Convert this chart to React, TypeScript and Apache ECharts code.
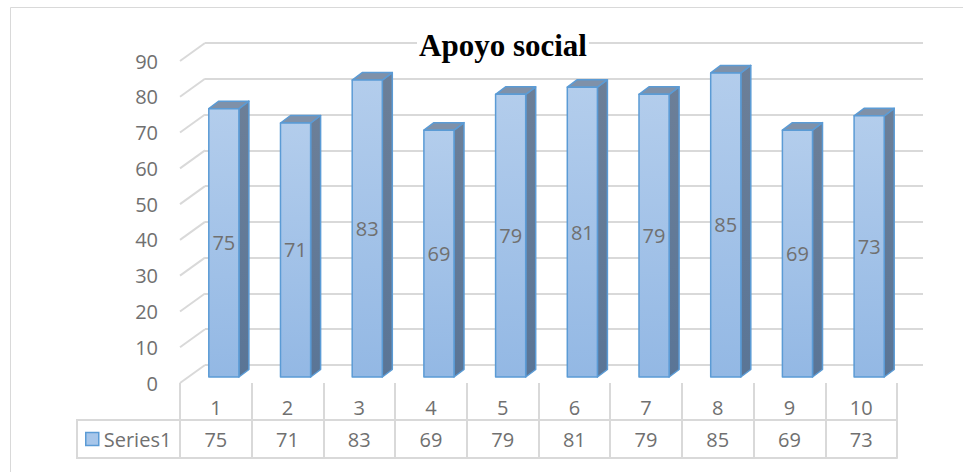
import React, { useEffect, useRef } from "react";
import * as echarts from "echarts";

// Categories, values and axis ticks
const CATEGORIES = ["1", "2", "3", "4", "5", "6", "7", "8", "9", "10"];
const SERIES_NAME = "Series1";
const VALUES = [75, 71, 83, 69, 79, 81, 79, 85, 69, 73];
const Y_TICKS = [0, 10, 20, 30, 40, 50, 60, 70, 80, 90];
const TITLE = "Apoyo social";

// Pseudo-3D geometry (pixels)
const WALL_DX = 25; // depth of the plot box
const WALL_DY = -18;
const BAR_SHIFT_X = 8; // bar front face, set back from the front plane
const BAR_SHIFT_Y = -6;
const BAR_DX = 10; // bar depth
const BAR_DY = -7.5;
const BAR_WIDTH_RATIO = 0.42;

const GRID_COLOR = "#d9d9d9";
const TEXT_COLOR = "#707070";
const FONT = "'Open Sans', sans-serif";

export default function App() {
  const ref = useRef<HTMLDivElement>(null);

  useEffect(() => {
    document.body.style.margin = "0";
    const chart = echarts.init(ref.current!, null, { renderer: "svg" });

    const frontLeft = 180;
    const frontTop = 61;
    const plotW = 717;
    const plotH = 322;

    const option: any = {
      animation: false,
      backgroundColor: "#ffffff",
      title: {
        text: TITLE,
        left: 417,
        top: 30,
        padding: [0, 2],
        backgroundColor: "#ffffff",
        textStyle: {
          fontFamily: "'Liberation Serif', 'Times New Roman', serif",
          fontWeight: "bold",
          fontSize: 31,
          lineHeight: 31,
          color: "#000000",
        },
        z: 10,
      },
      legend: {
        left: 85,
        top: 429,
        padding: 0,
        itemWidth: 13,
        itemHeight: 13,
        itemGap: 5,
        selectedMode: false,
        textStyle: { fontFamily: FONT, fontSize: 20, lineHeight: 20, color: TEXT_COLOR },
        data: [
          {
            name: SERIES_NAME,
            icon: "rect",
            itemStyle: { color: "#a7c6ea", borderColor: "#5b9bd5", borderWidth: 1.5 },
          },
        ],
      },
      grid: [
        // back wall
        {
          left: frontLeft + WALL_DX,
          top: frontTop + WALL_DY,
          width: plotW + 1,
          height: plotH,
        },
        // front plane
        {
          left: frontLeft,
          top: frontTop,
          width: plotW,
          height: plotH,
        },
      ],
      xAxis: [
        {
          gridIndex: 0,
          type: "category",
          data: CATEGORIES,
          show: false,
        },
        // category row of the data table
        {
          gridIndex: 1,
          type: "category",
          data: CATEGORIES,
          position: "bottom",
          axisLine: { show: false },
          axisTick: { show: true, length: 37, lineStyle: { color: GRID_COLOR, width: 2 } },
          axisLabel: {
            margin: 14,
            fontFamily: FONT,
            fontSize: 20,
            lineHeight: 20,
            color: TEXT_COLOR,
          },
        },
        // value row of the data table
        {
          gridIndex: 1,
          type: "category",
          data: CATEGORIES,
          position: "bottom",
          offset: 37,
          axisLine: { show: true, lineStyle: { color: GRID_COLOR, width: 2 } },
          axisTick: { show: true, length: 38, lineStyle: { color: GRID_COLOR, width: 2 } },
          axisLabel: {
            margin: 9,
            fontFamily: FONT,
            fontSize: 20,
            lineHeight: 20,
            color: TEXT_COLOR,
            formatter: (_v: string, i: number) => String(VALUES[i]),
          },
        },
        // bottom edge of the data table
        {
          gridIndex: 1,
          type: "category",
          data: CATEGORIES,
          position: "bottom",
          offset: 75,
          axisLine: { show: true, lineStyle: { color: GRID_COLOR, width: 2 } },
          axisTick: { show: false },
          axisLabel: { show: false },
        },
      ],
      yAxis: [
        {
          gridIndex: 0,
          type: "value",
          min: 0,
          max: 90,
          interval: 10,
          axisLine: { show: false },
          axisTick: { show: false },
          axisLabel: { show: false },
          splitLine: { show: true, lineStyle: { color: GRID_COLOR, width: 2 } },
        },
        {
          gridIndex: 1,
          type: "value",
          min: 0,
          max: 90,
          interval: 10,
          axisLine: { show: false },
          axisTick: { show: false },
          splitLine: { show: false },
          axisLabel: {
            margin: 22,
            fontFamily: FONT,
            fontSize: 20,
            color: TEXT_COLOR,
          },
        },
      ],
      graphic: [
        // outer chart frame
        {
          type: "rect",
          shape: { x: 10.5, y: 7.5, width: 1000, height: 600 },
          style: { fill: "none", stroke: GRID_COLOR, lineWidth: 1 },
          silent: true,
        },
        // legend cell of the data table
        {
          type: "polyline",
          shape: {
            points: [
              [frontLeft, 420],
              [77, 420],
              [77, 458],
              [frontLeft, 458],
            ],
          },
          style: { fill: "none", stroke: GRID_COLOR, lineWidth: 2 },
          silent: true,
        },
      ],
      series: [
        // side wall gridlines
        {
          type: "custom",
          name: "wall",
          xAxisIndex: 1,
          yAxisIndex: 1,
          silent: true,
          clip: false,
          legendHoverLink: false,
          data: Y_TICKS.map((v) => [0, v]),
          encode: { x: 0, y: 1 },
          renderItem: (params: any, api: any) => {
            const p = api.coord([0, api.value(1)]);
            const x = params.coordSys.x;
            return {
              type: "line",
              shape: { x1: x, y1: p[1], x2: x + WALL_DX, y2: p[1] + WALL_DY },
              style: { stroke: GRID_COLOR, lineWidth: 2 },
            };
          },
          z: 1,
        },
        // 3D columns
        {
          type: "custom",
          name: SERIES_NAME,
          xAxisIndex: 1,
          yAxisIndex: 1,
          clip: false,
          itemStyle: { color: "#a7c6ea", borderColor: "#5b9bd5" },
          data: VALUES.map((v, i) => [i, v]),
          encode: { x: 0, y: 1 },
          renderItem: (_params: any, api: any) => {
            const i = api.value(0);
            const v = api.value(1);
            const top = api.coord([i, v]);
            const bottom = api.coord([i, 0]);
            const band = api.size([1, 0])[0];
            const w = band * BAR_WIDTH_RATIO;
            const x0 = top[0] - w / 2 + BAR_SHIFT_X;
            const x1 = x0 + w;
            const yt = top[1] + BAR_SHIFT_Y;
            const yb = bottom[1] + BAR_SHIFT_Y;
            const edge = { stroke: "#5b9bd5", lineWidth: 1.5, lineJoin: "round" };
            return {
              type: "group",
              children: [
                {
                  type: "polygon",
                  shape: {
                    points: [
                      [x1, yt],
                      [x1 + BAR_DX, yt + BAR_DY],
                      [x1 + BAR_DX, yb + BAR_DY],
                      [x1, yb],
                    ],
                  },
                  style: {
                    ...edge,
                    fill: new echarts.graphic.LinearGradient(0, 0, 0, 1, [
                      { offset: 0, color: "#6c7f98" },
                      { offset: 1, color: "#5a7596" },
                    ]),
                  },
                },
                {
                  type: "polygon",
                  shape: {
                    points: [
                      [x0, yt],
                      [x0 + BAR_DX, yt + BAR_DY],
                      [x1 + BAR_DX, yt + BAR_DY],
                      [x1, yt],
                    ],
                  },
                  style: { ...edge, fill: "#7f91a9" },
                },
                {
                  type: "rect",
                  shape: { x: x0, y: yt, width: w, height: yb - yt },
                  style: {
                    ...edge,
                    fill: new echarts.graphic.LinearGradient(0, 0, 0, 1, [
                      { offset: 0, color: "#b3cdec" },
                      { offset: 1, color: "#93b8e4" },
                    ]),
                  },
                },
                {
                  type: "text",
                  x: x0 + w / 2,
                  y: (yt + yb) / 2,
                  style: {
                    text: String(v),
                    fontFamily: FONT,
                    fontSize: 20,
                    fill: TEXT_COLOR,
                    align: "center",
                    verticalAlign: "middle",
                  },
                  z2: 10,
                },
              ],
            };
          },
          z: 3,
        },
      ],
    };

    chart.setOption(option);
    return () => chart.dispose();
  }, []);

  return <div ref={ref} style={{ width: 963, height: 472 }} />;
}
